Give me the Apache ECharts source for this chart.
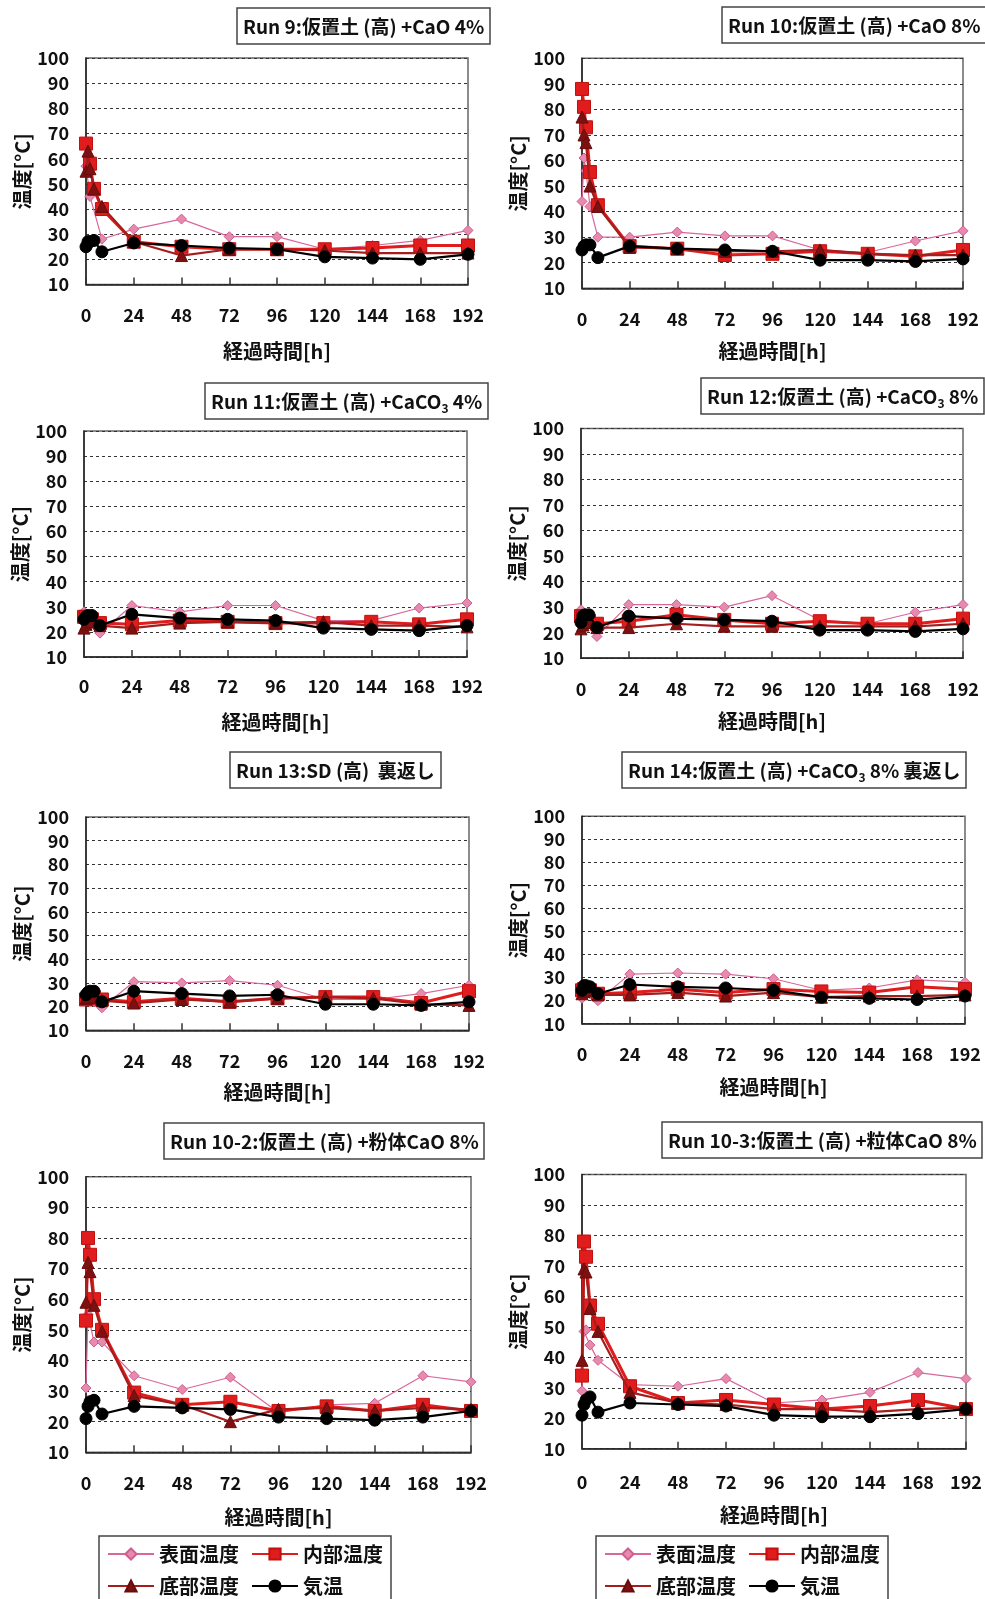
<!DOCTYPE html>
<html><head><meta charset="utf-8">
<script src="https://cdn.jsdelivr.net/npm/echarts@6/dist/echarts.min.js"></script>
<style>html,body{margin:0;padding:0;background:#fff}#c{width:985px;height:1599px}</style>
</head><body><div id="c"></div>
<script>
// Elapsed time [h]
const T = [0, 1, 2, 4, 8, 24, 48, 72, 96, 120, 144, 168, 192];
const yTicks = [10, 100, 10]; // min, max, interval
const xTicks = [0, 192, 24];

const seriesNames = ['表面温度', '内部温度', '底部温度', '気温'];
const titles = [
  'Run 9:仮置土 (高) +CaO 4%',
  'Run 10:仮置土 (高) +CaO 8%',
  'Run 11:仮置土 (高) +CaCO{s|3} 4%',
  'Run 12:仮置土 (高) +CaCO{s|3} 8%',
  'Run 13:SD (高)  裏返し',
  'Run 14:仮置土 (高) +CaCO{s|3} 8% 裏返し',
  'Run 10-2:仮置土 (高) +粉体CaO 8%',
  'Run 10-3:仮置土 (高) +粒体CaO 8%'
];

// Run 9
const run9Surface = [57, null, 45, null, 28, 32, 36, 29, 29, 24, 25.5, 27.5, 31.5];
const run9Inner   = [66, null, 58, 48, 40, 27, 25, 24, 24, 24, 24.5, 25.5, 25.5];
const run9Bottom  = [55, 63, 56, 48, 41, 27, 21.5, 24, 24, 23.5, 22.5, 22.5, 22.5];
const run9Air     = [25, 27, 27, 27.5, 23, 26.5, 25.5, 24.5, 24, 21, 20.5, 20, 22];
// Run 10
const run10Surface = [44, 61, 56, 42, 30, 30, 32, 30.5, 30.5, 25, 24, 28.5, 32.5];
const run10Inner   = [88, 81, 73, 55.5, 42.5, 26.5, 25.5, 23, 23.5, 24.5, 23.5, 22.5, 25];
const run10Bottom  = [77, 70, 67, 50, 42, 26, 25.5, 24.5, 24.5, 25, 23.5, 23, 23];
const run10Air     = [25, 26.5, 27, 27, 22, 26.5, 25.5, 25, 24.5, 21, 21, 20.5, 21.5];
// Run 11
const run11Surface = [28, 27, 25, 24, 19.5, 30.5, 28, 30.5, 30.5, 24.5, 24.5, 29.5, 31.5];
const run11Inner   = [26, 26, 25, 25, 23.5, 23, 24.5, 24, 23.5, 23.5, 24, 23, 25];
const run11Bottom  = [21.5, 23, 24, 24, 22.5, 21.5, 23.5, 24, 23.5, 24, 22.5, 22.5, 22];
const run11Air     = [25, 26, 26.5, 26.5, 22.5, 27, 25.5, 25, 24.5, 21.5, 21, 20.5, 22.5];
// Run 12
const run12Surface = [29, 27, 25, 24, 18.5, 31, 31, 30, 34.5, 25, 23.5, 28, 31];
const run12Inner   = [26.5, 26, 25, 24.5, 23.5, 24.5, 27, 25, 23.5, 24.5, 23.5, 23.5, 25.5];
const run12Bottom  = [21.5, 23, 24, 24, 22, 22, 23.5, 22.5, 22.5, 22.5, 22.5, 22.5, 23.5];
const run12Air     = [24, 26.5, 27, 27, 22, 26.5, 25.5, 25, 24.5, 21, 21, 20.5, 21.5];
// Run 13
const run13Surface = [25, 24, 23, 22, 19.5, 30.5, 30, 31, 29, 23, 23, 25.5, 29];
const run13Inner   = [23, 23.5, 24, 24, 23, 22, 23.5, 22, 23.5, 24, 24, 21.5, 26.5];
const run13Bottom  = [23.5, 24, 24, 24, 22.5, 21.5, 23, 22, 23.5, 24, 23.5, 21, 20.5];
const run13Air     = [25, 26, 26.5, 26.5, 22, 26.5, 25.5, 24.5, 25, 21, 21, 20.5, 22];
// Run 14
const run14Surface = [21, 23, 24, 23, 20, 31.5, 32, 31.5, 29.5, 24.5, 25.5, 29, 28];
const run14Inner   = [24.5, 25, 25, 24.5, 23, 23.5, 25, 23.5, 25, 24, 23.5, 26, 25];
const run14Bottom  = [23, 24, 25, 24.5, 22.5, 22.5, 23.5, 22, 23.5, 21.5, 22, 22, 22.5];
const run14Air     = [24.5, 26.5, 26.5, 26, 23, 27, 26, 25.5, 24.5, 21.5, 21, 20.5, 22];
// Run 10-2
const run102Surface = [31, 55, null, 46, 46, 35, 30.5, 34.5, 23, 25.5, 26, 35, 33];
const run102Inner   = [53, 80, 74.5, 60, 50, 29.5, 25.5, 26.5, 23.5, 25, 23.5, 25.5, 23.5];
const run102Bottom  = [59, 72, 69, 58, 49.5, 28.5, 25.5, 20, 24, 24.5, 23.5, 24.5, 24];
const run102Air     = [21, 25, 26.5, 27, 22.5, 25, 24.5, 24, 21.5, 21, 20.5, 21.5, 23.5];
// Run 10-3
const run103Surface = [29, 48.5, 49, 44, 39, 31, 30.5, 33, 25, 26, 28.5, 35, 33];
const run103Inner   = [34, 78, 73, 57, 51, 30.5, 25, 26, 24.5, 23, 24, 26, 23];
const run103Bottom  = [39, 69, 68, 56, 48.5, 28.5, 25, 24.5, 23, 23, 22, 23, 23.5];
const run103Air     = [21, 24.5, 26, 27, 22, 25, 24.5, 24, 21, 20.5, 20.5, 21.5, 23];

const panelData = [
  [run9Surface, run9Inner, run9Bottom, run9Air],
  [run10Surface, run10Inner, run10Bottom, run10Air],
  [run11Surface, run11Inner, run11Bottom, run11Air],
  [run12Surface, run12Inner, run12Bottom, run12Air],
  [run13Surface, run13Inner, run13Bottom, run13Air],
  [run14Surface, run14Inner, run14Bottom, run14Air],
  [run102Surface, run102Inner, run102Bottom, run102Air],
  [run103Surface, run103Inner, run103Bottom, run103Air]
];

// layout: [left, top, width, height, xLabelMargin, xNameGap]
const grids = [
  [86, 58, 382, 226.5, 22, 57],
  [582, 58.3, 381, 230, 22, 53],
  [84, 431, 383, 226, 20, 55],
  [581, 428.5, 382, 229.7, 22, 53],
  [86, 817, 383, 213.3, 22, 52],
  [582, 816.3, 383, 207.4, 21, 54],
  [86, 1176.7, 385, 275.6, 22, 55],
  [582, 1174.5, 384, 274.2, 24, 57]
];
// title boxes: [left, top]
const titlePos = [[237, 8], [722, 7], [205, 383], [701, 378], [230, 752], [622, 752], [164, 1123], [662, 1122]];

const FONT = '"Noto Sans CJK JP", "Liberation Sans", sans-serif';
const styles = [
  {symbol: 'diamond', symbolSize: 10, line: '#d9679a', lw: 1.2, fill: '#e68ab0', border: '#cf5d8e'},
  {symbol: 'rect', symbolSize: 13, line: '#e01c1c', lw: 3, fill: '#e01c1c', border: '#c01010'},
  {symbol: 'triangle', symbolSize: 12, line: '#a41e1e', lw: 2.2, fill: '#7d1010', border: '#6a0c0c'},
  {symbol: 'circle', symbolSize: 12, line: '#000000', lw: 2.2, fill: '#000000', border: '#000000'}
];

const option = {
  backgroundColor: '#ffffff',
  animation: false,
  title: titles.map((t, i) => ({
    text: t,
    left: titlePos[i][0], top: titlePos[i][1],
    borderColor: '#444', borderWidth: 1.5,
    padding: [6, 6, 5, 6],
    backgroundColor: '#fff',
    textStyle: {
      fontFamily: FONT, fontSize: 19, fontWeight: 'bold', color: '#111', lineHeight: 25,
      rich: {s: {fontFamily: FONT, fontSize: 12, fontWeight: 'bold', color: '#111', verticalAlign: 'bottom', lineHeight: 21}}
    }
  })),
  legend: [99, 596].map(l => ({
    data: seriesNames,
    left: l, top: 1536, width: 284,
    orient: 'horizontal',
    itemWidth: 46, itemHeight: 14, itemGap: 12,
    borderColor: '#444', borderWidth: 1.5, padding: [8, 8, 30, 8],
    textStyle: {fontFamily: FONT, fontSize: 20, fontWeight: 'bold', color: '#111'}
  })),
  grid: grids.map(g => ({
    left: g[0], top: g[1], width: g[2], height: g[3],
    show: true, borderColor: '#666', borderWidth: 1.5, backgroundColor: '#fff'
  })),
  xAxis: grids.map((g, i) => ({
    gridIndex: i, type: 'value', min: xTicks[0], max: xTicks[1], interval: xTicks[2],
    name: '経過時間[h]', nameLocation: 'middle', nameGap: g[5],
    nameTextStyle: {fontFamily: FONT, fontSize: 20, fontWeight: 'bold', color: '#111'},
    axisLine: {lineStyle: {color: '#222', width: 1.5}},
    axisTick: {show: true, inside: true, length: 7, lineStyle: {color: '#333', width: 1.5}},
    axisLabel: {margin: g[4], fontFamily: FONT, fontSize: 18, fontWeight: 'bold', color: '#111'},
    splitLine: {show: false}
  })),
  yAxis: grids.map((g, i) => ({
    gridIndex: i, type: 'value', min: yTicks[0], max: yTicks[1], interval: yTicks[2],
    name: '温度[°C]', nameLocation: 'middle', nameGap: 54, nameRotate: 90,
    nameTextStyle: {fontFamily: FONT, fontSize: 20, fontWeight: 'bold', color: '#111'},
    axisLine: {show: true, lineStyle: {color: '#222', width: 1.5}},
    axisTick: {show: false},
    axisLabel: {margin: 17, fontFamily: FONT, fontSize: 18, fontWeight: 'bold', color: '#111'},
    splitLine: {show: true, lineStyle: {color: '#333', width: 1, type: [3, 3]}}
  })),
  series: []
};

panelData.forEach((arrs, i) => {
  arrs.forEach((arr, k) => {
    const s = styles[k];
    option.series.push({
      name: seriesNames[k], type: 'line',
      xAxisIndex: i, yAxisIndex: i,
      data: T.map((t, j) => [t, arr[j]]),
      connectNulls: true,
      symbol: s.symbol, symbolSize: s.symbolSize,
      lineStyle: {color: s.line, width: s.lw},
      itemStyle: {color: s.fill, borderColor: s.border, borderWidth: 1},
      z: 2 + k
    });
  });
});

const chart = echarts.init(document.getElementById('c'), null, {renderer: 'canvas'});
chart.setOption(option);
</script>
</body></html>
